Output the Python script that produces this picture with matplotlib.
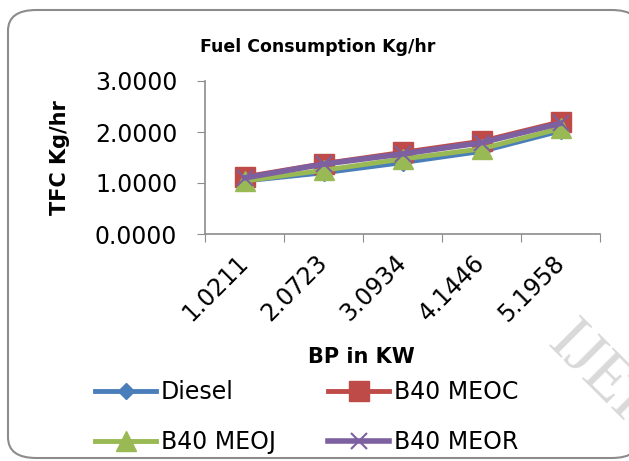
import numpy as np
import matplotlib
matplotlib.use("Agg")
import matplotlib.pyplot as plt
from matplotlib.patches import FancyBboxPatch

# brake power (kW) at each load step
bp_labels = ["1.0211", "2.0723", "3.0934", "4.1446", "5.1958"]

# total fuel consumption, kg/hr
diesel = [1.04, 1.20, 1.40, 1.62, 2.02]
b40_meoc = [1.12, 1.38, 1.60, 1.82, 2.20]
b40_meoj = [1.04, 1.25, 1.47, 1.67, 2.07]
b40_meor = [1.10, 1.37, 1.57, 1.79, 2.17]

W, H = 629, 461
fig = plt.figure(figsize=(W / 100, H / 100), dpi=100)

# rounded chart frame
frame = FancyBboxPatch((8 / W, 1 - 458 / H), (640 - 8) / W, (458 - 10) / H,
                       boxstyle="round,pad=0,rounding_size=0.045",
                       transform=fig.transFigure, facecolor="white",
                       edgecolor="#8c8c8c", linewidth=1.5, zorder=-10)
fig.patches.append(frame)

# watermark
fig.text(546 / W, 1 - 345 / H, "IJERT", fontsize=48, family="Liberation Serif",
         color="#d9d9d9", rotation=-45, ha="left", va="baseline",
         rotation_mode="anchor", zorder=-5)

ax = fig.add_axes([205 / W, 1 - 234 / H, (600 - 205) / W, (234 - 81) / H])
ax.set_facecolor("none")

x = np.arange(len(bp_labels))
l1, = ax.plot(x, diesel, color="#4a7ebb", lw=3.5, marker="D", ms=8, label="Diesel")
l2, = ax.plot(x, b40_meoc, color="#be4b48", lw=3.5, marker="s", ms=14, label="B40 MEOC")
l3, = ax.plot(x, b40_meoj, color="#98b954", lw=3.5, marker="^", ms=14, label="B40 MEOJ")
l4, = ax.plot(x, b40_meor, color="#7d60a0", lw=4, marker="x", ms=11, mew=1.5, label="B40 MEOR")

ax.set_xlim(-0.5, len(bp_labels) - 0.5)
ax.set_ylim(0, 3)
ax.set_yticks([0, 1, 2, 3])
ax.set_yticklabels(["%.4f" % v for v in [0, 1, 2, 3]], fontsize=17)

# tick marks between categories, labels at the centres
ax.set_xticks(np.arange(-0.5, len(bp_labels), 1))
ax.set_xticklabels([])
ax.set_xticks(x, minor=True)
ax.set_xticklabels(bp_labels, minor=True, fontsize=17, rotation=45,
                   ha="right", va="center", rotation_mode="anchor")
ax.tick_params(axis="x", which="minor", length=0, pad=18)
ax.tick_params(axis="x", which="major", length=6, color="#8c8c8c", direction="out")
ax.tick_params(axis="y", length=6, color="#8c8c8c", direction="out", pad=14)

for side in ["top", "right"]:
    ax.spines[side].set_visible(False)
for side in ["left", "bottom"]:
    ax.spines[side].set_color("#8c8c8c")
    ax.spines[side].set_linewidth(1.2)

fig.text(318 / W, 1 - 47 / H, "Fuel Consumption Kg/hr", fontsize=12.5,
         fontweight="bold", ha="center", va="center")
fig.text(60 / W, 1 - 158 / H, "TFC Kg/hr", fontsize=15, fontweight="bold",
         rotation=90, ha="center", va="center")
fig.text(361 / W, 1 - 357 / H, "BP in KW", fontsize=15, fontweight="bold",
         ha="center", va="center")

# row-wise order: Diesel, MEOC / MEOJ, MEOR
fig.legend([l1, l3, l2, l4], ["Diesel", "B40 MEOJ", "B40 MEOC", "B40 MEOR"],
           loc="upper left", bbox_to_anchor=(95 / W, 1 - 380 / H), ncol=2,
           frameon=False, fontsize=17, handlelength=2.6, handletextpad=0.2,
           columnspacing=2.2, labelspacing=1.1, borderpad=0, borderaxespad=0)

fig.savefig("out.png", dpi=100)
